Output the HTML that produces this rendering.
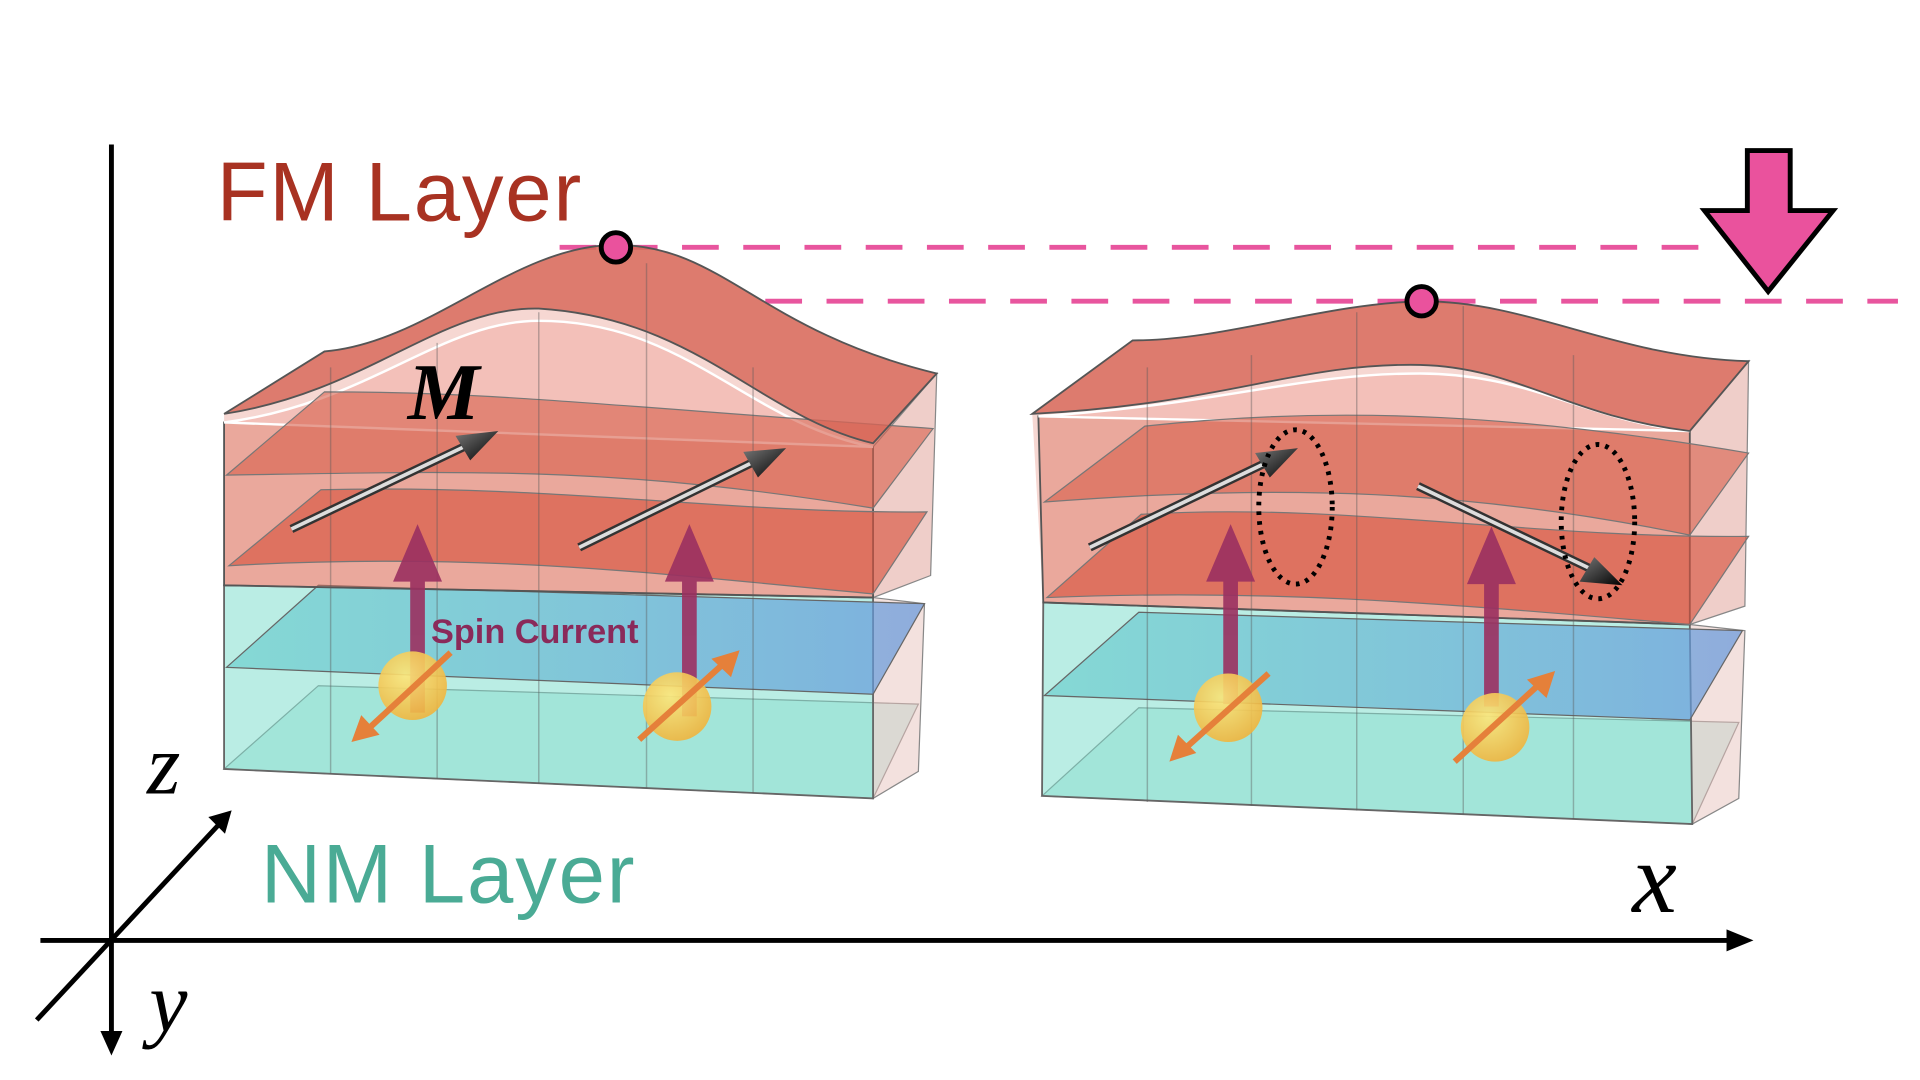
<!DOCTYPE html>
<html><head><meta charset="utf-8"><style>
html,body{margin:0;padding:0;background:#fff;width:1920px;height:1080px;overflow:hidden}
svg{display:block}
</style></head><body>
<svg width="1920" height="1080" viewBox="0 0 1568 882" preserveAspectRatio="none" xmlns="http://www.w3.org/2000/svg">
<defs>
<radialGradient id="ball" cx="0.4" cy="0.35" r="0.7"><stop offset="0" stop-color="#fde77a"/><stop offset="1" stop-color="#f0b23a"/></radialGradient>
<linearGradient id="cone" x1="0" y1="0" x2="1" y2="1"><stop offset="0" stop-color="#777"/><stop offset="1" stop-color="#000"/></linearGradient>
<linearGradient id="teal" x1="0" y1="0" x2="1" y2="0"><stop offset="0" stop-color="rgba(90,200,200,0.55)"/><stop offset="1" stop-color="rgba(100,150,220,0.7)"/></linearGradient>
</defs>
<rect width="1568" height="882" fill="#fff"/>

<g stroke="#000" stroke-width="4" fill="none">
<line x1="91" y1="118" x2="91" y2="852"/>
<path d="M82,842 L91,862 L100,842" fill="#000" stroke="none"/>
<line x1="33" y1="768" x2="1420" y2="768"/>
<path d="M1410,759 L1432,768 L1410,777 Z" fill="#000" stroke="none"/>
<line x1="30" y1="833" x2="180" y2="672"/>
<path d="M173,668 L187,664 L183,678 Z" fill="#000" stroke="#000" stroke-width="3"/>
</g>
<text x="120" y="648" font-family="Liberation Serif, serif" font-style="italic" font-size="70">z</text>
<text x="122" y="842" font-family="Liberation Serif, serif" font-style="italic" font-size="70">y</text>
<text x="1333" y="745" font-family="Liberation Serif, serif" font-style="italic" font-size="82">x</text>
<text x="177" y="180" font-family="Liberation Sans, sans-serif" font-size="68" letter-spacing="1.5" fill="#a83222">FM Layer</text>
<text x="213" y="737" font-family="Liberation Sans, sans-serif" font-size="68" letter-spacing="1.5" fill="#4aab95">NM Layer</text>

<g stroke="#e8559e" stroke-width="4" stroke-dasharray="30,20">
<line x1="457" y1="202" x2="1400" y2="202"/>
<line x1="625" y1="246" x2="1550" y2="246"/>
</g>
<path d="M1427,123 L1462,123 L1462,172 L1497,172 L1444,238 L1392,172 L1427,172 Z" fill="#ea529d" stroke="#000" stroke-width="4"/>

<!-- LEFT BLOCK -->
<g>
<path d="M183,338 L265,287 C350,280 420,200 503,200 C590,200 620,270 765,305 L760,470 L713,488 L183,478 Z" fill="rgba(230,140,125,0.35)"/>
<path d="M183,628 L260,560 L750,575 L713,652 Z" fill="rgba(120,210,195,0.45)" stroke="#666" stroke-width="1"/>
<path d="M713,488 L755,493 L750,630 L713,652 Z" fill="rgba(235,205,200,0.6)" stroke="#888" stroke-width="1"/>
<path d="M183,478 L183,628 L713,652 L713,488 Z" fill="rgba(140,225,210,0.6)" stroke="#666" stroke-width="1.5"/>
<path d="M185,545 L260,478 L755,493 L713,567 Z" fill="url(#teal)" stroke="#666" stroke-width="1"/>
<path d="M713,365 L765,305 L760,470 L713,488 Z" fill="rgba(235,200,195,0.6)" stroke="#888" stroke-width="1"/>
<path d="M183,345 L183,478 L713,488 L713,365 Z" fill="rgba(220,110,90,0.45)" stroke="#555" stroke-width="1.5"/>
<path d="M183,345 C300,330 360,262 440,262 C560,262 610,345 713,365 Z" fill="rgba(240,170,160,0.5)" stroke="#fff" stroke-width="2"/>
<path d="M185,388 L265,320 C400,320 480,330 762,350 L713,415 C500,380 380,385 185,388 Z" fill="rgba(215,95,75,0.6)" stroke="#777" stroke-width="1"/>
<path d="M187,462 L262,400 C450,395 600,420 757,418 L713,485 C550,470 400,450 187,462 Z" fill="rgba(215,85,65,0.65)" stroke="#777" stroke-width="1"/>
<path d="M183,338 L265,287 C350,280 420,200 503,200 C590,200 620,270 765,305 L713,362 C620,340 570,260 440,252 C360,250 300,320 183,338 Z" fill="rgba(215,100,85,0.8)" stroke="#555" stroke-width="1.5"/>
<g stroke="rgba(90,90,90,0.4)" stroke-width="1.2">
<line x1="270" y1="300" x2="270" y2="632"/><line x1="357" y1="280" x2="357" y2="636"/><line x1="440" y1="255" x2="440" y2="640"/><line x1="528" y1="215" x2="528" y2="644"/><line x1="615" y1="300" x2="615" y2="648"/>
</g>
</g>

<!-- RIGHT BLOCK -->
<g>
<path d="M843,338 L925,278 C1000,278 1080,248 1161,246 C1250,246 1320,292 1428,295 L1425,495 L1380,510 L852,492 Z" fill="rgba(230,140,125,0.35)"/>
<path d="M851,650 L930,578 L1420,590 L1382,673 Z" fill="rgba(120,210,195,0.45)" stroke="#666" stroke-width="1"/>
<path d="M1380,510 L1425,515 L1420,652 L1382,673 Z" fill="rgba(235,205,200,0.6)" stroke="#888" stroke-width="1"/>
<path d="M852,492 L851,650 L1382,673 L1380,510 Z" fill="rgba(140,225,210,0.6)" stroke="#666" stroke-width="1.5"/>
<path d="M853,568 L930,500 L1423,515 L1380,588 Z" fill="url(#teal)" stroke="#666" stroke-width="1"/>
<path d="M1380,352 L1428,295 L1425,495 L1380,510 Z" fill="rgba(235,200,195,0.6)" stroke="#888" stroke-width="1"/>
<path d="M848,340 L852,492 L1380,510 L1380,352 Z" fill="rgba(220,110,90,0.45)" stroke="#555" stroke-width="1.5"/>
<path d="M848,340 C1000,330 1060,305 1160,305 C1250,305 1300,345 1380,352 Z" fill="rgba(240,170,160,0.5)" stroke="#fff" stroke-width="2"/>
<path d="M853,410 L935,348 C1100,330 1250,340 1428,370 L1380,437 C1200,400 1050,395 853,410 Z" fill="rgba(215,95,75,0.6)" stroke="#777" stroke-width="1"/>
<path d="M855,488 L932,420 C1100,410 1250,440 1428,438 L1380,510 C1200,495 1050,480 855,488 Z" fill="rgba(215,85,65,0.65)" stroke="#777" stroke-width="1"/>
<path d="M843,338 L925,278 C1000,278 1080,248 1161,246 C1250,246 1320,292 1428,295 L1380,352 C1280,340 1240,300 1160,298 C1060,296 1000,330 843,338 Z" fill="rgba(215,100,85,0.8)" stroke="#555" stroke-width="1.5"/>
<g stroke="rgba(90,90,90,0.4)" stroke-width="1.2">
<line x1="937" y1="300" x2="937" y2="655"/><line x1="1022" y1="290" x2="1022" y2="658"/><line x1="1108" y1="255" x2="1108" y2="662"/><line x1="1195" y1="250" x2="1195" y2="665"/><line x1="1285" y1="290" x2="1285" y2="669"/>
</g>
</g>

<circle cx="503" cy="202" r="12" fill="#ea529d" stroke="#000" stroke-width="4"/>
<circle cx="1161" cy="246" r="12" fill="#ea529d" stroke="#000" stroke-width="4"/>

<g>
<line x1="238" y1="432" x2="385" y2="362" stroke="#333" stroke-width="7"/><line x1="238" y1="432" x2="385" y2="362" stroke="#ddd" stroke-width="3"/>
<path d="M372,356 L407,352 L384,376 Z" fill="url(#cone)"/>
<line x1="473" y1="447" x2="620" y2="375" stroke="#333" stroke-width="7"/><line x1="473" y1="447" x2="620" y2="375" stroke="#ddd" stroke-width="3"/>
<path d="M607,369 L642,366 L619,390 Z" fill="url(#cone)"/>
<line x1="890" y1="447" x2="1038" y2="376" stroke="#333" stroke-width="7"/><line x1="890" y1="447" x2="1038" y2="376" stroke="#ddd" stroke-width="3"/>
<path d="M1025,370 L1060,366 L1037,390 Z" fill="url(#cone)"/>
<line x1="1158" y1="397" x2="1300" y2="465" stroke="#333" stroke-width="7"/><line x1="1158" y1="397" x2="1300" y2="465" stroke="#ddd" stroke-width="3"/>
<path d="M1290,475 L1325,478 L1302,455 Z" fill="url(#cone)"/>
</g>
<text x="333" y="342" font-family="Liberation Serif, serif" font-style="italic" font-weight="bold" font-size="66">M</text>

<ellipse cx="1058" cy="414" rx="30" ry="63" fill="none" stroke="#000" stroke-width="4" stroke-dasharray="3,5"/>
<ellipse cx="1305" cy="426" rx="30" ry="63" fill="none" stroke="#000" stroke-width="4" stroke-dasharray="3,5"/>

<g fill="#9b3060" opacity="0.9">
<rect x="335" y="470" width="12" height="112"/><path d="M321,475 L341,428 L361,475 Z"/>
<rect x="557" y="470" width="12" height="115"/><path d="M543,475 L563,428 L583,475 Z"/>
<rect x="999" y="470" width="12" height="105"/><path d="M985,475 L1005,428 L1025,475 Z"/>
<rect x="1212" y="472" width="12" height="105"/><path d="M1198,477 L1218,430 L1238,477 Z"/>
</g>
<text x="352" y="525" font-family="Liberation Sans, sans-serif" font-weight="bold" font-size="28" fill="#8a2a5a">Spin Current</text>

<g>
<circle cx="337" cy="560" r="28" fill="url(#ball)" opacity="0.9"/>
<circle cx="553" cy="577" r="28" fill="url(#ball)" opacity="0.9"/>
<circle cx="1003" cy="578" r="28" fill="url(#ball)" opacity="0.9"/>
<circle cx="1221" cy="594" r="28" fill="url(#ball)" opacity="0.9"/>
<g stroke="#e5803a" stroke-width="5">
<line x1="368" y1="533" x2="300" y2="596"/><line x1="522" y1="604" x2="592" y2="541"/>
<line x1="1036" y1="550" x2="967" y2="612"/><line x1="1188" y1="622" x2="1258" y2="558"/>
</g>
<g fill="#e5803a">
<path d="M287,606 L295,584 L310,600 Z"/><path d="M604,531 L597,553 L581,538 Z"/>
<path d="M955,622 L962,600 L977,615 Z"/><path d="M1270,548 L1263,570 L1247,555 Z"/>
</g>
</g>
</svg>
</body></html>
